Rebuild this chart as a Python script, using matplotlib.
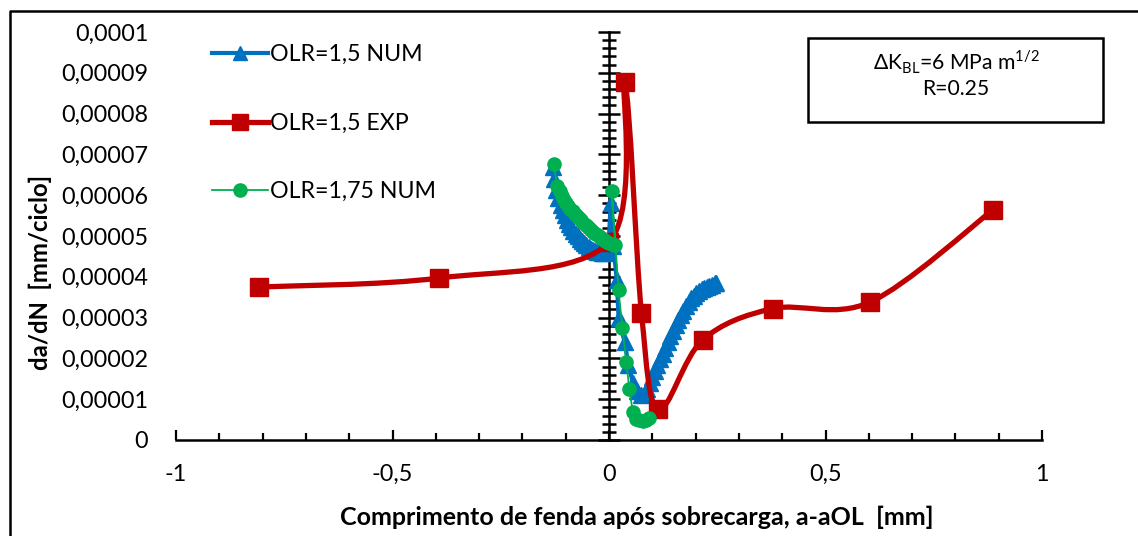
import numpy as np
import matplotlib
matplotlib.use("Agg")
import matplotlib.pyplot as plt
from matplotlib.path import Path
from matplotlib.patches import PathPatch, Rectangle
from matplotlib.lines import Line2D
from matplotlib.ticker import MultipleLocator

plt.rcParams['font.family'] = ['Lato', 'DejaVu Sans']

# --- dados (da/dN em 1e-5 mm/ciclo) ---

# OLR=1,5 NUM
x_num15 = [-0.130, -0.127, -0.122, -0.117, -0.112, -0.107, -0.102, -0.097, -0.092, -0.087,
           -0.082, -0.077, -0.072, -0.067, -0.062, -0.057, -0.052, -0.047, -0.042, -0.037,
           -0.032, -0.027, -0.022, -0.017, -0.012, -0.007, -0.002, 0.004, 0.010, 0.018,
           0.022, 0.036, 0.045, 0.055, 0.065, 0.075, 0.082,
           0.088, 0.094, 0.100, 0.106, 0.112, 0.118, 0.124, 0.130, 0.136, 0.142,
           0.148, 0.154, 0.160, 0.166, 0.172, 0.178, 0.184, 0.190, 0.196, 0.202,
           0.208, 0.214, 0.220, 0.226, 0.232, 0.238, 0.244, 0.248]
y_num15 = [6.68, 6.40, 6.12, 5.92, 5.76, 5.63, 5.51, 5.40, 5.30, 5.21,
           5.13, 5.06, 4.99, 4.93, 4.87, 4.82, 4.77, 4.73, 4.69, 4.66,
           4.63, 4.61, 4.60, 4.59, 4.59, 4.60, 4.62, 5.80, 4.75, 3.92,
           3.00, 2.40, 1.85, 1.40, 1.20, 1.10, 1.12,
           1.25, 1.40, 1.55, 1.70, 1.84, 1.98, 2.12, 2.26, 2.40, 2.54,
           2.68, 2.81, 2.94, 3.06, 3.17, 3.28, 3.38, 3.47, 3.54, 3.60,
           3.65, 3.69, 3.72, 3.75, 3.78, 3.81, 3.84, 3.86]

# OLR=1,5 EXP
x_exp15 = [-0.808, -0.392, 0.0, 0.036, 0.075, 0.114, 0.216, 0.378, 0.603, 0.887]
y_exp15 = [3.75, 3.97, 4.85, 8.77, 3.11, 0.75, 2.45, 3.22, 3.38, 5.64]

# OLR=1,75 NUM
x_num175 = [-0.128, -0.119, -0.114, -0.109, -0.104, -0.099, -0.094, -0.089, -0.084, -0.079,
            -0.074, -0.069, -0.064, -0.059, -0.054, -0.049, -0.044, -0.039, -0.034, -0.029,
            -0.024, -0.019, -0.014, -0.009, -0.004, 0.001, 0.006, 0.011, 0.015, 0.006,
            0.022, 0.031, 0.040, 0.047, 0.055, 0.062, 0.070, 0.078, 0.086, 0.093]
y_num175 = [6.76, 6.22, 6.10, 5.99, 5.89, 5.81, 5.74, 5.67, 5.61, 5.55,
            5.49, 5.43, 5.38, 5.33, 5.28, 5.23, 5.18, 5.13, 5.08, 5.04,
            5.00, 4.96, 4.92, 4.88, 4.85, 4.82, 4.80, 4.78, 4.77, 6.10,
            3.68, 2.74, 1.91, 1.25, 0.68, 0.52, 0.48, 0.47, 0.50, 0.55]

y_ticks_lbl = ['0', '0,00001', '0,00002', '0,00003', '0,00004', '0,00005',
               '0,00006', '0,00007', '0,00008', '0,00009', '0,0001']
x_ticks_lbl = ['-1', '-0,5', '0', '0,5', '1']

azul = '#0070C0'
verm = '#C00000'
verde = '#00B050'
fs = 16.8


def curva_suave(x, y):
    # curva tipo "linha suavizada" do Excel (bezier cubica)
    p = np.column_stack([x, y])
    n = len(p)
    verts = [p[0]]
    codes = [Path.MOVETO]
    for i in range(n - 1):
        p0 = p[i - 1] if i > 0 else p[i]
        p3 = p[i + 2] if i + 2 < n else p[i + 1]
        c1 = p[i] + (p[i + 1] - p0) / 6
        c2 = p[i + 1] - (p3 - p[i]) / 6
        verts += [c1, c2, p[i + 1]]
        codes += [Path.CURVE4] * 3
    return Path(verts, codes)


xb = np.array(x_num15)
yb = np.array(y_num15) * 1e-5
xr = np.array(x_exp15)
yr = np.array(y_exp15) * 1e-5
xg = np.array(x_num175)
yg = np.array(y_num175) * 1e-5

fig = plt.figure(figsize=(11.38, 5.36), dpi=100)
ax = fig.add_axes([176 / 1138, 1 - 440 / 536, 866 / 1138, 408 / 536])

ax.plot(xb, yb, color=azul, lw=3, marker='^', ms=12, zorder=3,
        solid_joinstyle='round', solid_capstyle='round')
ax.add_patch(PathPatch(curva_suave(xr, yr), facecolor='none', edgecolor=verm,
                       lw=3.8, zorder=4, joinstyle='round', capstyle='round'))
ax.plot(xr, yr, linestyle='none', marker='s', ms=13.5, color=verm, zorder=4)
ax.plot(xg, yg, color=verde, lw=1.3, marker='o', ms=9.5, zorder=5)

ax.set_xlim(-1, 1)
ax.set_ylim(0, 1e-4)

for s in ['top', 'right', 'left']:
    ax.spines[s].set_visible(False)
ax.spines['bottom'].set_linewidth(1.8)

ax.set_xticks([-1, -0.5, 0, 0.5, 1])
ax.set_xticklabels(x_ticks_lbl)
ax.xaxis.set_minor_locator(MultipleLocator(0.1))
ax.tick_params(axis='x', which='major', direction='in', length=7, width=1.6,
               pad=17, labelsize=fs)
ax.tick_params(axis='x', which='minor', direction='in', length=5, width=1.6)

ax.set_yticks(np.arange(11) * 1e-5)
ax.set_yticklabels(y_ticks_lbl)
ax.tick_params(axis='y', which='both', length=0, pad=20, labelsize=fs)

# eixo vertical em x = 0
sec = ax.secondary_yaxis(0.5)
sec.set_yticks(np.arange(11) * 1e-5)
sec.yaxis.set_minor_locator(MultipleLocator(2e-6))
sec.tick_params(which='major', direction='inout', length=16, width=1.8,
                labelleft=False, labelright=False)
sec.tick_params(which='minor', direction='inout', length=10, width=1.8)
for s in sec.spines.values():
    s.set_linewidth(1.8)

fig.text(40 / 1138, 1 - 272 / 536, 'da/dN  [mm/ciclo]', rotation=90,
         ha='center', va='center', fontsize=17.2, fontweight='bold')
fig.text(637 / 1138, 1 - 517 / 536, 'Comprimento de fenda após sobrecarga, a-aOL  [mm]',
         ha='center', va='center', fontsize=18, fontweight='bold')

handles = [
    Line2D([], [], color=azul, lw=3, marker='^', ms=10.5),
    Line2D([], [], color=verm, lw=3.8, marker='s', ms=12),
    Line2D([], [], color=verde, lw=1.3, marker='o', ms=9.5),
]
ax.legend(handles, ['OLR=1,5 NUM', 'OLR=1,5 EXP', 'OLR=1,75 NUM'],
          loc='upper left', bbox_to_anchor=(0.0416, 0.97), borderaxespad=0,
          borderpad=0, frameon=False, fontsize=16.7, handlelength=2.4,
          handletextpad=0.1, labelspacing=2.05)

# caixa de texto
fig.add_artist(Rectangle((808 / 1138, 1 - 122 / 536), 295 / 1138, 84 / 536,
                         transform=fig.transFigure, facecolor='white',
                         edgecolor='black', lw=1.8))
fig.text(956 / 1138, 1 - 62 / 536, r'ΔK$_{\mathregular{BL}}$=6 MPa m$^{\mathregular{1/2}}$',
         ha='center', va='center', fontsize=15.2)
fig.text(956 / 1138, 1 - 89 / 536, 'R=0.25', ha='center', va='center', fontsize=15.2)

# moldura
fig.add_artist(Line2D([10 / 1138, 10 / 1138, 1], [0, 1 - 11 / 536, 1 - 11 / 536],
                      transform=fig.transFigure, color='black', lw=1.8))

fig.savefig('out.png', dpi=100)
